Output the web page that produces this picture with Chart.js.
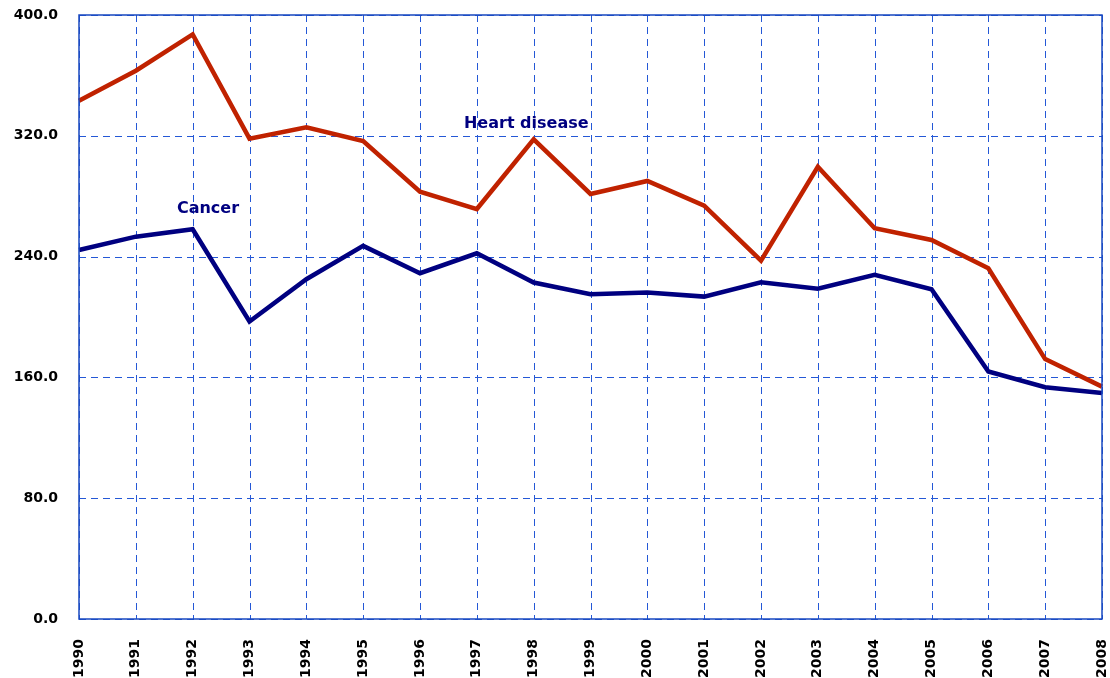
<!DOCTYPE html>
<html>
<head>
<meta charset="utf-8">
<script src="https://cdn.jsdelivr.net/npm/chart.js@4"></script>
<style>
  html, body { margin: 0; padding: 0; background: #fff; }
  #wrap { width: 1110px; height: 678px; }
</style>
</head>
<body>
<div id="wrap"><canvas id="c"></canvas></div>
<script>
const years = ['1990','1991','1992','1993','1994','1995','1996','1997','1998','1999',
               '2000','2001','2002','2003','2004','2005','2006','2007','2008'];
const heartDisease = [343.2, 363.1, 387.2, 318.1, 325.6, 316.5, 283.0, 271.5, 317.7, 281.5,
                      290.1, 273.7, 237.3, 299.5, 258.8, 251.0, 232.3, 172.1, 153.9];
const cancer = [244.4, 253.2, 258.1, 197.0, 225.0, 247.1, 229.0, 242.2, 222.8, 215.1,
                216.2, 213.5, 223.0, 218.8, 227.9, 218.4, 163.9, 153.5, 149.6];
const seriesLabels = [
  { text: 'Cancer', x: 2.27, y: 271.5 },
  { text: 'Heart disease', x: 7.87, y: 327.8 }
];

const gridBlue = '#2458d6';

// dashed grid drawn by hand, then the frame and series names
const extras = {
  id: 'extras',
  beforeDatasetsDraw(chart) {
    const { ctx, chartArea: a, scales } = chart;
    ctx.save();
    ctx.strokeStyle = gridBlue;
    ctx.lineWidth = 1;
    ctx.setLineDash([7, 5]);
    scales.y.ticks.forEach(t => {
      const y = Math.round(scales.y.getPixelForValue(t.value)) + 0.5;
      ctx.beginPath(); ctx.moveTo(a.left, y); ctx.lineTo(a.right, y); ctx.stroke();
    });
    years.forEach((_, i) => {
      const x = Math.round(scales.x.getPixelForValue(i)) + 0.5;
      ctx.beginPath(); ctx.moveTo(x, a.top); ctx.lineTo(x, a.bottom); ctx.stroke();
    });
    ctx.restore();
  },
  afterDraw(chart) {
    const { ctx, chartArea: a, scales } = chart;
    ctx.save();
    ctx.strokeStyle = '#1848c0';
    ctx.lineWidth = 1.5;
    ctx.strokeRect(a.left, a.top, a.right - a.left, a.bottom - a.top);
    ctx.fillStyle = '#000080';
    ctx.font = 'bold 16px "DejaVu Sans"';
    ctx.textAlign = 'center';
    ctx.textBaseline = 'middle';
    seriesLabels.forEach(l => {
      ctx.fillText(l.text, scales.x.getPixelForValue(l.x), scales.y.getPixelForValue(l.y));
    });
    ctx.restore();
  }
};

new Chart(document.getElementById('c'), {
  type: 'line',
  data: {
    labels: years,
    datasets: [
      { label: 'Heart disease', data: heartDisease, borderColor: '#c02200', borderWidth: 4.5,
        pointRadius: 0, tension: 0, fill: false },
      { label: 'Cancer', data: cancer, borderColor: '#000080', borderWidth: 4.5,
        pointRadius: 0, tension: 0, fill: false }
    ]
  },
  options: {
    responsive: true,
    maintainAspectRatio: false,
    animation: false,
    layout: { padding: { top: 15, right: 8, left: 0, bottom: 0 } },
    plugins: { legend: { display: false }, tooltip: { enabled: false } },
    scales: {
      x: {
        offset: false,
        grid: { display: false },
        border: { display: false },
        ticks: { color: '#000', font: { family: '"DejaVu Sans"', weight: 'bold', size: 14 },
                 minRotation: 90, maxRotation: 90, padding: 12, autoSkip: false },
        afterFit(s) { s.height = 59; s.paddingLeft = 0; s.paddingRight = 0; }
      },
      y: {
        min: 0, max: 400,
        grid: { display: false },
        border: { display: false },
        ticks: { stepSize: 80, color: '#000', padding: 13,
                 font: { family: '"DejaVu Sans"', weight: 'bold', size: 14 },
                 callback: v => v.toFixed(1) },
        afterFit(s) { s.width = 79; s.paddingTop = 0; s.paddingBottom = 0; }
      }
    }
  },
  plugins: [extras]
});
</script>
</body>
</html>
